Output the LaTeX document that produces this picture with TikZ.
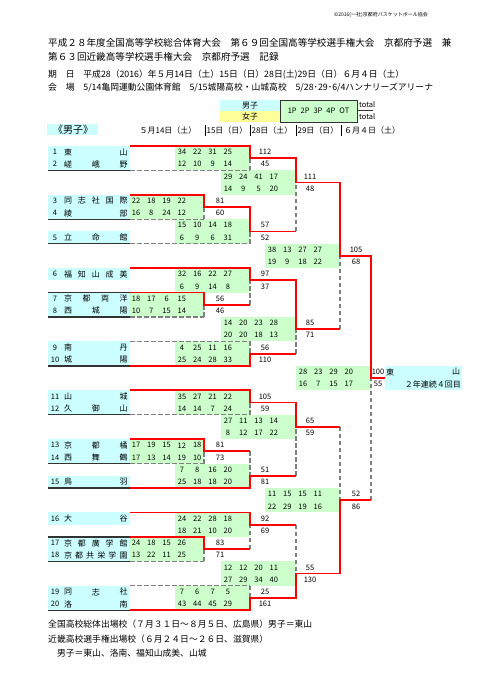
\documentclass[tikz,border=0pt]{standalone}
\usepackage{fontspec}
\setmainfont{Noto Sans CJK JP}
\usetikzlibrary{positioning}

\definecolor{teamcyan}{HTML}{CCFFFF}
\definecolor{scoregreen}{HTML}{CCFFCC}
\definecolor{girlyellow}{HTML}{FFFF99}
\definecolor{linegray}{HTML}{808080}
\definecolor{rulegray}{HTML}{333333}

% row, number, letters, letters list
\newcommand\teamrow[4]{%
  \node[teamnum] (t#2) at (55,#1) {#2};
  \foreach \tchar [count=\i] in {#4}
    \node[teamname] (t#2-\i) at ({68+(\i-1)*55.5/(#3-1)},#1) {\tchar};
}
% name, right x, row, top scores, bottom scores, top total, bottom total, total x
\newcommand\scorebox[8]{%
  \fill[scoregreen] ({#2-75},{#3-0.5}) rectangle (#2,{#3+1.5});
  \foreach \s [count=\i] in {#4} \node[pts] at ({#2-68+(\i-1)*15.3},#3) {\s};
  \foreach \s [count=\i] in {#5} \node[pts] at ({#2-68+(\i-1)*15.3},{#3+1}) {\s};
  \node[pts] (#1a) at (#8,#3) {#6};
  \node[pts] (#1b) at (#8,{#3+1}) {#7};
}

\begin{document}
\begin{tikzpicture}[x = 1pt, y = -1pt,
    every node/.style = {inner sep = 0pt},
    teamnum/.style = {font = \fontsize{7.5}{8}\selectfont},
    teamname/.style = {font = \fontsize{8}{9}\selectfont},
    pts/.style = {font = \fontsize{7.5}{8}\selectfont},
    head/.style = {anchor = west, font = \fontsize{9.6}{11}\selectfont},
    info/.style = {anchor = west, font = \fontsize{8.8}{10}\selectfont},
    foot/.style = {anchor = west, font = \fontsize{8.8}{10}\selectfont},
    win/.style = {draw = red, line width = 1.8pt},
    lose/.style = {draw = linegray, line width = 1.2pt, dash pattern = on 4.5pt off 2.5pt},
    rule/.style = {draw = rulegray, line width = 1.4pt}
  ]
  \useasboundingbox (0,0) rectangle (481,680);

  \node[anchor = east, font = \fontsize{5}{6}\selectfont] (copy) at (428,15) {©2016(一社)京都府バスケットボール協会};
  \node[head] (title1) at (48,43) {平成２８年度全国高等学校総合体育大会　第６９回全国高等学校選手権大会　京都府予選　兼};
  \node[head] (title2) at (48,57) {第６３回近畿高等学校選手権大会　京都府予選　記録};
  \node[info] (dates) at (48,75) {期　日　平成28（2016）年５月14日（土）15日（日）28日(土)29日（日）６月４日（土）};
  \node[info] (venue) at (48,88) {会　場　5/14亀岡運動公園体育館　5/15城陽高校・山城高校　5/28･29･6/4ハンナリーズアリーナ};

  % legend
  \fill[teamcyan] (220,100) rectangle (280,111);
  \fill[girlyellow] (220,111) rectangle (280,122);
  \filldraw[fill = scoregreen, draw = rulegray, line width = 0.8pt] (280,100) rectangle (357,122);
  \node[teamname] (boys) at (250,105.5) {男子};
  \node[teamname] (girls) at (250,116.5) {女子};
  \node[pts] (periods) at (318.5,111) {1P\hspace{4pt}2P\hspace{4pt}3P\hspace{4pt}4P\hspace{4pt}OT};
  \node[pts, anchor = west] (tot1) at (359,105) {total};
  \node[pts, anchor = west] (tot2) at (359,117) {total};
  \draw[rulegray, line width = 0.8pt] (357,110.5) -- (373,110.5);

  \fill[teamcyan] (47,124) rectangle (98,135);
  \node[font = \fontsize{10}{11}\selectfont] (sect) at (73,129.5) {《男子》};
  \node[teamname] (d1) at (168,130) {５月14日（土）};
  \node[teamname] (d2) at (227,130) {15日（日）};
  \node[teamname] (d3) at (272,130) {28日（土）};
  \node[teamname] (d4) at (318,130) {29日（日）};
  \node[teamname] (d5) at (372,130) {６月４日（土）};
  \foreach \x in {205,250,296,341}
    \draw[black, line width = 0.8pt] (\x,125) -- (\x,136);

  \begin{scope}[y = -12.22pt, yshift = -152pt]
    % team blocks
    \foreach \a/\b in {0/1, 4/5, 7/7, 10/10, 12/13, 16/17, 20/21, 24/25, 27/27, 30/30, 32/33, 36/37}
      \fill[teamcyan] (48,{\a-0.5}) rectangle (130,{\b+0.5});
    \teamrow{0}{1}{2}{東,山}
    \teamrow{1}{2}{3}{嵯,峨,野}
    \teamrow{4}{3}{5}{同,志,社,国,際}
    \teamrow{5}{4}{2}{綾,部}
    \teamrow{7}{5}{3}{立,命,館}
    \teamrow{10}{6}{5}{福,知,山,成,美}
    \teamrow{12}{7}{4}{京,都,両,洋}
    \teamrow{13}{8}{3}{西,城,陽}
    \teamrow{16}{9}{2}{南,丹}
    \teamrow{17}{10}{2}{城,陽}
    \teamrow{20}{11}{2}{山,城}
    \teamrow{21}{12}{3}{久,御,山}
    \teamrow{24}{13}{3}{京,都,橘}
    \teamrow{25}{14}{3}{西,舞,鶴}
    \teamrow{27}{15}{2}{鳥,羽}
    \teamrow{30}{16}{2}{大,谷}
    \teamrow{32}{17}{5}{京,都,廣,学,館}
    \teamrow{33}{18}{6}{京,都,共,栄,学,園}
    \teamrow{36}{19}{3}{同,志,社}
    \teamrow{37}{20}{2}{洛,南}

    % scores
    \scorebox{g1}{250}{0}{34,22,31,25}{12,10,9,14}{112}{45}{265}
    \scorebox{g2}{204}{4}{22,18,19,22}{16,8,24,12}{81}{60}{220}
    \scorebox{g3}{250}{6}{15,10,14,18}{6,9,6,31}{57}{52}{265}
    \scorebox{g4}{296}{2}{29,24,41,17}{14,9,5,20}{111}{48}{310}
    \scorebox{g5}{204}{12}{18,17,6,15}{10,7,15,14}{56}{46}{220}
    \scorebox{g6}{250}{10}{32,16,22,27}{6,9,14,8}{97}{37}{265}
    \scorebox{g7}{250}{16}{4,25,11,16}{25,24,28,33}{56}{110}{265}
    \scorebox{g8}{296}{14}{14,20,23,28}{20,20,18,13}{85}{71}{310}
    \scorebox{g9}{340}{8}{38,13,27,27}{19,9,18,22}{105}{68}{356}
    \scorebox{g10}{250}{20}{35,27,21,22}{14,14,7,24}{105}{59}{265}
    \scorebox{g11}{204}{24}{17,19,15,12,18}{17,13,14,19,10}{81}{73}{220}
    \scorebox{g12}{250}{26}{7,8,16,20}{25,18,18,20}{51}{81}{265}
    \scorebox{g13}{296}{22}{27,11,13,14}{8,12,17,22}{65}{59}{310}
    \scorebox{g14}{204}{32}{24,18,15,26}{13,22,11,25}{83}{71}{220}
    \scorebox{g15}{250}{30}{24,22,28,18}{18,21,10,20}{92}{69}{265}
    \scorebox{g16}{250}{36}{7,6,7,5}{43,44,45,29}{25}{161}{265}
    \scorebox{g17}{296}{34}{12,12,20,11}{27,29,34,40}{55}{130}{310}
    \scorebox{g18}{340}{28}{11,15,15,11}{22,29,19,16}{52}{86}{356}
    \scorebox{g19}{371}{18}{28,23,29,20}{16,7,15,17}{100}{55}{378}

    % champion
    \fill[teamcyan] (385,17.5) rectangle (462,19.5);
    \node[teamname] (champ1) at (390,18) {東};
    \node[teamname] (champ2) at (456,18) {山};
    \node[teamname, anchor = east] (champ3) at (461,19) {２年連続４回目};

    % losing lines
    \foreach \r/\x in {1.5/250, 5.5/204, 7.5/250, 13.5/204, 15.5/250, 21.5/250, 25.5/204, 33.5/204, 35.5/250}
      \draw[lose] (130,\r) -- (\x,\r);
    \foreach \x/\a/\b in {250/1.5/0.5, 204/5.5/4.5, 250/7.5/6.5, 296/6.5/2.5, 204/13.5/12.5,
        250/12.5/10.5, 250/15.5/16.5, 296/16.5/14.5, 340/14.5/8.5, 250/21.5/20.5,
        204/25.5/24.5, 250/24.5/26.5, 296/26.5/22.5, 204/33.5/32.5, 250/32.5/30.5,
        250/35.5/36.5, 296/30.5/34.5, 340/22.5/28.5, 371/28.5/18.5}
      \draw[lose] (\x,\a) -- (\x,\b);

    % winning lines
    \draw[win] (130,-0.5) -| (250,0.5) -| (296,2.5) -| (340,8.5) -| (371,18.5) -- (385,18.5);
    \draw[win] (130,3.5) -| (204,4.5) -| (250,6.5) -- (296,6.5);
    \draw[win] (130,9.5) -| (250,10.5) -| (296,14.5) -- (340,14.5);
    \draw[win] (130,11.5) -| (204,12.5) -- (250,12.5);
    \draw[win] (130,17.5) -| (250,16.5) -- (296,16.5);
    \draw[win] (130,19.5) -| (250,20.5) -| (296,22.5) -- (340,22.5);
    \draw[win] (130,23.5) -| (204,24.5) -- (250,24.5);
    \draw[win] (130,27.5) -| (250,26.5) -- (296,26.5);
    \draw[win] (130,29.5) -| (250,30.5) -- (296,30.5);
    \draw[win] (130,31.5) -| (204,32.5) -- (250,32.5);
    \draw[win] (130,37.5) -| (250,36.5) -| (296,34.5) -| (340,28.5) -- (371,28.5);

    % team underlines
    \foreach \r in {1.5, 5.5, 7.5, 11.5, 13.5, 17.5, 21.5, 25.5, 27.5, 31.5, 33.5, 37.5}
      \draw[rule] (48,\r) -- (130,\r);
  \end{scope}

  \node[foot] (foot1) at (48,624) {全国高校総体出場校（７月３１日～８月５日、広島県）男子＝東山};
  \node[foot] (foot2) at (48,639) {近畿高校選手権出場校（６月２４日～２６日、滋賀県）};
  \node[foot] (foot3) at (48,653) {　男子＝東山、洛南、福知山成美、山城};
\end{tikzpicture}
\end{document}
